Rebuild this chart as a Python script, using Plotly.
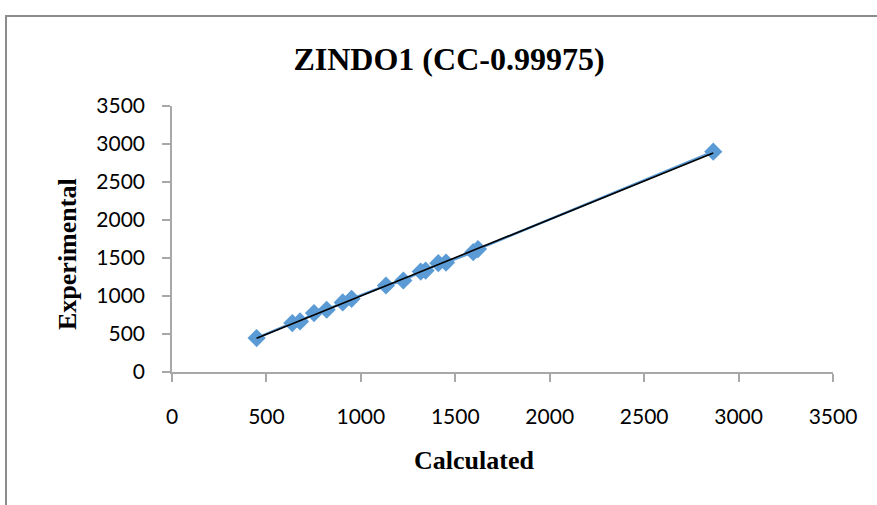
import numpy as np
import plotly.graph_objects as go

# Calculated vs experimental frequencies (ZINDO1)
calculated = [448, 637, 678, 752, 819, 904, 951, 1133, 1225, 1317, 1343, 1410, 1451, 1595, 1620, 2866]
experimental = [447, 644, 665, 775, 819, 915, 963, 1138, 1204, 1322, 1335, 1432, 1440, 1577, 1617, 2899]

tick_vals = [0, 500, 1000, 1500, 2000, 2500, 3000, 3500]
tick_text = ["0", "500", "1000", "1500", "2000", "2500", "3000", "3500"]

title_text = "ZINDO1 (CC-0.99975)"
x_title = "Calculated"
y_title = "Experimental"

# Linear trendline over the data range
slope, intercept = np.polyfit(calculated, experimental, 1)
trend_x = [min(calculated), max(calculated)]
trend_y = [slope * v + intercept for v in trend_x]

W, H = 877, 505
L, R, T, B = 172, 44, 106, 133
pw, ph = W - L - R, H - T - B

def px_x(p):
    return (p - L) / pw

def px_y(p):
    return (H - B - p) / ph

fig = go.Figure()
fig.add_trace(go.Scatter(
    x=calculated, y=experimental, mode="lines+markers",
    line=dict(color="#5B9BD5", width=2.5),
    marker=dict(symbol="diamond", size=14, color="#5B9BD5"),
    showlegend=False,
))
fig.add_trace(go.Scatter(
    x=trend_x, y=trend_y, mode="lines",
    line=dict(color="#000000", width=1.6),
    showlegend=False,
))

axis_common = dict(
    range=[0, 3500], tickvals=tick_vals, ticktext=tick_text,
    showgrid=False, zeroline=False, showline=True,
    linecolor="#A8A8A8", linewidth=1.5,
    ticks="outside", ticklen=8, tickcolor="#A8A8A8", tickwidth=1.5,
    tickfont=dict(family="Lato", size=21, color="#000000"),
)

serif_bold = dict(family="Liberation Serif", size=26, color="#000000")

fig.update_layout(
    width=W, height=H,
    margin=dict(l=L, r=R, t=T, b=B),
    paper_bgcolor="white", plot_bgcolor="white",
    title=dict(
        text="<b>" + title_text + "</b>",
        x=px_x(449), xref="paper", xanchor="center",
        y=1 - 59 / H, yref="container", yanchor="middle",
        font=dict(family="Liberation Serif", size=32, color="#000000"),
    ),
    xaxis=dict(**axis_common, ticklabelstandoff=17),
    yaxis=dict(**axis_common, ticklabelstandoff=13),
    annotations=[
        dict(text="<b>" + x_title + "</b>", xref="paper", yref="paper",
             x=px_x(474), y=px_y(460), xanchor="center", yanchor="middle",
             showarrow=False, font=serif_bold),
        dict(text="<b>" + y_title + "</b>", xref="paper", yref="paper",
             x=px_x(67), y=px_y(254), xanchor="center", yanchor="middle",
             textangle=-90, showarrow=False, font=serif_bold),
    ],
    shapes=[
        # chart area border (left and top visible)
        dict(type="line", xref="paper", yref="paper",
             x0=px_x(6), x1=px_x(6), y0=px_y(16), y1=px_y(520),
             line=dict(color="#8C8C8C", width=2)),
        dict(type="line", xref="paper", yref="paper",
             x0=px_x(5), x1=px_x(890), y0=px_y(16), y1=px_y(16),
             line=dict(color="#8C8C8C", width=2)),
    ],
)

fig.write_html("out.html")
